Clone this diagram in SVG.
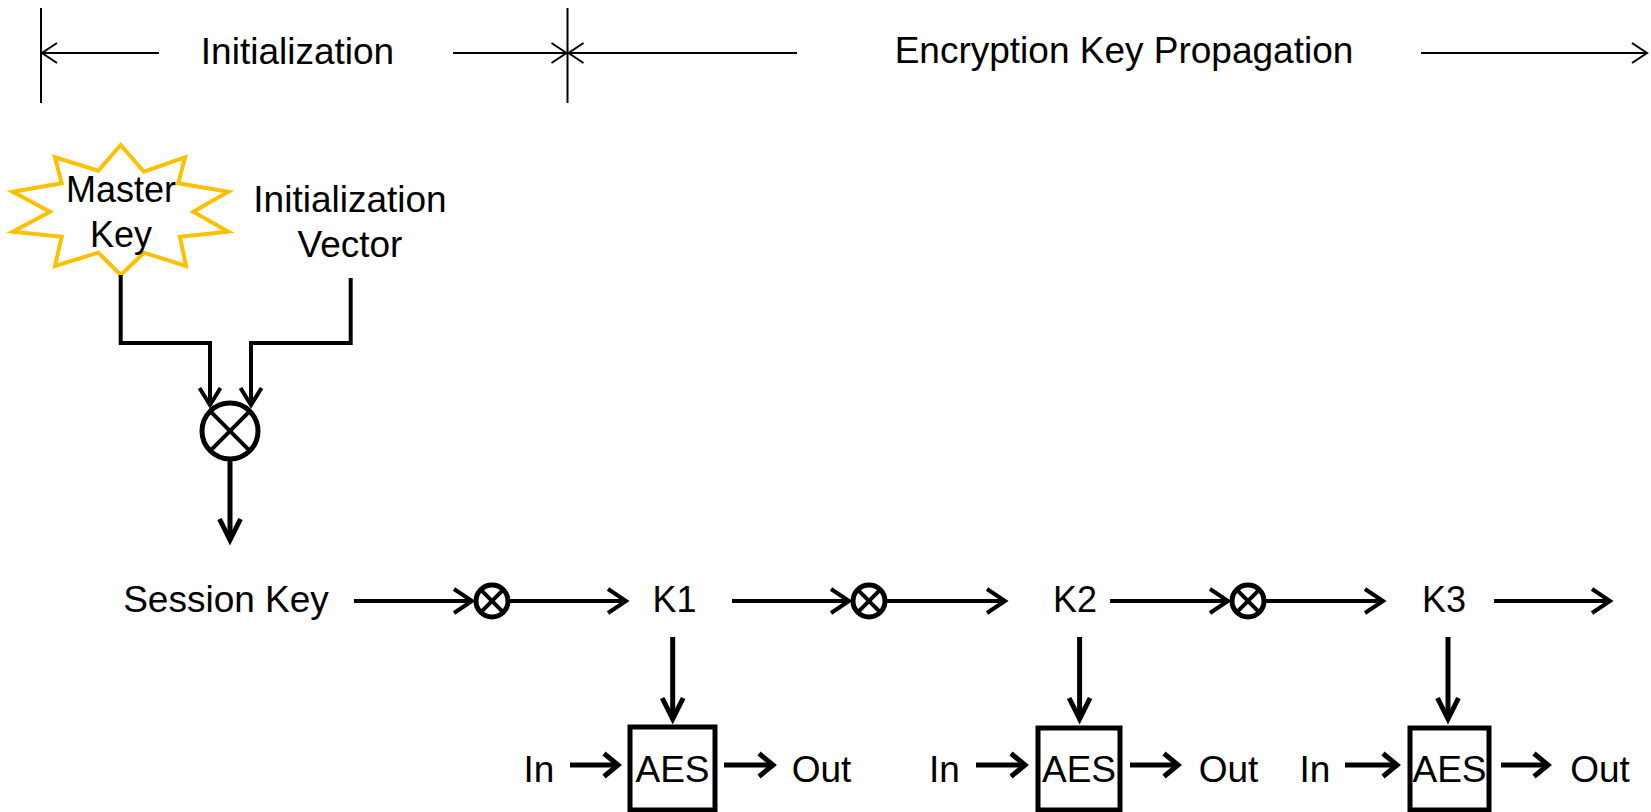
<svg xmlns="http://www.w3.org/2000/svg" width="1651" height="812" viewBox="0 0 1651 812">
  <style>
    text { font-family: "Liberation Sans", Arial, sans-serif; fill: #000; text-anchor: middle; }
    .big { font-size: 37px; }
    .key { font-size: 36px; }
    .io { font-size: 37px; }
    .dim { stroke: #000; stroke-width: 2; fill: none; }
    .flow { stroke: #000; stroke-width: 4; fill: none; }
    .feed { stroke: #000; stroke-width: 4; fill: none; }
    .bold { stroke: #000; stroke-width: 5; fill: none; }
    .xor { stroke: #000; stroke-width: 5; fill: #fff; }
    .aes { stroke: #000; stroke-width: 5; fill: #fff; }
  </style>
  <defs>
    <marker id="ah-dim" viewBox="-25 -20 30 40" markerWidth="30" markerHeight="40" refX="0" refY="0" orient="auto" markerUnits="userSpaceOnUse" overflow="visible">
      <path d="M-15,-10 L0,0 L-15,10" fill="none" stroke="#000" stroke-width="2"/>
    </marker>
    <marker id="ah-flow" viewBox="-25 -20 30 40" markerWidth="30" markerHeight="40" refX="0" refY="0" orient="auto" markerUnits="userSpaceOnUse" overflow="visible">
      <path d="M-18,-12 L0,0 L-18,12" fill="none" stroke="#000" stroke-width="4"/>
    </marker>
    <marker id="ah-feed" viewBox="-25 -20 30 40" markerWidth="30" markerHeight="40" refX="0" refY="0" orient="auto" markerUnits="userSpaceOnUse" overflow="visible">
      <path d="M-17,-10.5 L0,0 L-17,10.5" fill="none" stroke="#000" stroke-width="4"/>
    </marker>
    <marker id="ah-down" viewBox="-25 -20 30 40" markerWidth="30" markerHeight="40" refX="0" refY="0" orient="auto" markerUnits="userSpaceOnUse" overflow="visible">
      <path d="M-21,-10.5 L0,0 L-21,10.5" fill="none" stroke="#000" stroke-width="5"/>
    </marker>
    <marker id="ah-io" viewBox="-25 -20 30 40" markerWidth="30" markerHeight="40" refX="0" refY="0" orient="auto" markerUnits="userSpaceOnUse" overflow="visible">
      <path d="M-14,-11.5 L0,0 L-14,11.5" fill="none" stroke="#000" stroke-width="5"/>
    </marker>
  </defs>

  <!-- phase ruler along the top -->
  <g id="phases">
    <line class="dim" x1="41" y1="8" x2="41" y2="103"/>
    <line class="dim" x1="567.5" y1="8" x2="567.5" y2="103"/>
    <line class="dim" x1="159" y1="53" x2="42" y2="53" marker-end="url(#ah-dim)"/>
    <line class="dim" x1="453" y1="53" x2="566.5" y2="53" marker-end="url(#ah-dim)"/>
    <line class="dim" x1="797" y1="53" x2="568.5" y2="53" marker-end="url(#ah-dim)"/>
    <line class="dim" x1="1421" y1="53" x2="1647" y2="53" marker-end="url(#ah-dim)"/>
    <text class="big" x="297.5" y="64">Initialization</text>
    <text class="big" x="1124" y="63">Encryption Key Propagation</text>
  </g>

  <g id="master-key">
    <polygon points="120.7,145 144,171.7 185,157.3 178.3,183.3 228.3,191.7 193.3,211.7 228.3,231.7 180,236.7 186,266 144,252.7 120.7,275 98.3,252.7 55,266 61.7,236.7 12.7,231.7 50,211.7 12.7,191.7 61.7,183.3 55,157.3 98.3,170.7" fill="#fff" stroke="#FFC000" stroke-width="4"/>
    <text class="key" x="121" y="202">Master</text>
    <text class="key" x="121" y="247">Key</text>
  </g>

  <g id="init-vector">
    <text class="big" x="350" y="212">Initialization</text>
    <text class="big" x="350" y="257">Vector</text>
  </g>

  <g id="combine">
    <circle class="xor" cx="230" cy="431" r="28"/>
    <line class="feed" x1="210.2" y1="411.2" x2="249.8" y2="450.8"/>
    <line class="feed" x1="249.8" y1="411.2" x2="210.2" y2="450.8"/>
  </g>

  <g id="session-key"><text class="big" x="226" y="612">Session Key</text></g>

  <g id="xor1">
    <circle class="xor" cx="492" cy="601" r="16"/>
    <line class="feed" x1="480.7" y1="589.7" x2="503.3" y2="612.3"/>
    <line class="feed" x1="503.3" y1="589.7" x2="480.7" y2="612.3"/>
  </g>
  <g id="xor2">
    <circle class="xor" cx="869" cy="601" r="16"/>
    <line class="feed" x1="857.7" y1="589.7" x2="880.3" y2="612.3"/>
    <line class="feed" x1="880.3" y1="589.7" x2="857.7" y2="612.3"/>
  </g>
  <g id="xor3">
    <circle class="xor" cx="1248" cy="601" r="16"/>
    <line class="feed" x1="1236.7" y1="589.7" x2="1259.3" y2="612.3"/>
    <line class="feed" x1="1259.3" y1="589.7" x2="1236.7" y2="612.3"/>
  </g>

  <g id="k1"><text class="key" x="674.5" y="612">K1</text></g>
  <g id="k2"><text class="key" x="1075" y="612">K2</text></g>
  <g id="k3"><text class="key" x="1444" y="612">K3</text></g>

  <g id="aes1">
    <rect class="aes" x="630" y="727" width="85" height="83"/>
    <text class="io" x="672.5" y="782">AES</text>
    <text class="io" x="539" y="782">In</text>
    <text class="io" x="821.5" y="782">Out</text>
  </g>
  <g id="aes2">
    <rect class="aes" x="1038" y="728" width="82" height="82"/>
    <text class="io" x="1079" y="782">AES</text>
    <text class="io" x="944.5" y="782">In</text>
    <text class="io" x="1228.5" y="782">Out</text>
  </g>
  <g id="aes3">
    <rect class="aes" x="1410" y="728" width="79" height="82"/>
    <text class="io" x="1449.5" y="782">AES</text>
    <text class="io" x="1315" y="782">In</text>
    <text class="io" x="1600" y="782">Out</text>
  </g>

  <g id="connectors">
    <!-- master key and IV into the combiner -->
    <polyline class="feed" points="120.7,275 120.7,343 210,343 210,405" marker-end="url(#ah-feed)"/>
    <polyline class="feed" points="350.7,278 350.7,343 251,343 251,405" marker-end="url(#ah-feed)"/>
    <line class="bold" x1="230" y1="461" x2="230" y2="540" marker-end="url(#ah-down)"/>

    <!-- key chain -->
    <line class="flow" x1="354" y1="601" x2="472" y2="601" marker-end="url(#ah-flow)"/>
    <line class="flow" x1="510" y1="601" x2="626" y2="601" marker-end="url(#ah-flow)"/>
    <line class="flow" x1="732" y1="601" x2="849" y2="601" marker-end="url(#ah-flow)"/>
    <line class="flow" x1="887" y1="601" x2="1005" y2="601" marker-end="url(#ah-flow)"/>
    <line class="flow" x1="1110" y1="601" x2="1228" y2="601" marker-end="url(#ah-flow)"/>
    <line class="flow" x1="1266" y1="601" x2="1383" y2="601" marker-end="url(#ah-flow)"/>
    <line class="flow" x1="1494" y1="601" x2="1610" y2="601" marker-end="url(#ah-flow)"/>

    <!-- round keys into AES blocks -->
    <line class="bold" x1="672.7" y1="637" x2="672.7" y2="719" marker-end="url(#ah-down)"/>
    <line class="bold" x1="1079.6" y1="637" x2="1079.6" y2="719" marker-end="url(#ah-down)"/>
    <line class="bold" x1="1448" y1="637" x2="1448" y2="719" marker-end="url(#ah-down)"/>

    <!-- data in / out -->
    <line class="bold" x1="570" y1="765" x2="618" y2="765" marker-end="url(#ah-io)"/>
    <line class="bold" x1="724" y1="765" x2="773" y2="765" marker-end="url(#ah-io)"/>
    <line class="bold" x1="976" y1="765" x2="1025" y2="765" marker-end="url(#ah-io)"/>
    <line class="bold" x1="1130" y1="765" x2="1178" y2="765" marker-end="url(#ah-io)"/>
    <line class="bold" x1="1345" y1="765" x2="1397" y2="765" marker-end="url(#ah-io)"/>
    <line class="bold" x1="1501" y1="765" x2="1548" y2="765" marker-end="url(#ah-io)"/>
  </g>
</svg>
